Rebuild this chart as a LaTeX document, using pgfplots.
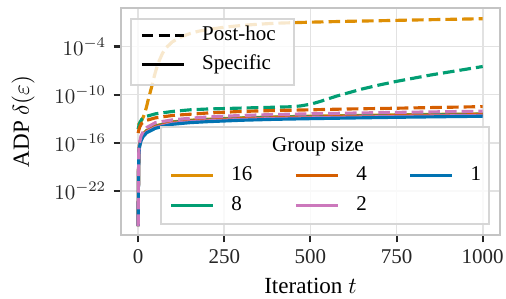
\documentclass[border=0pt]{standalone}
\usepackage{fontspec}
\setmainfont{Liberation Serif}
\usepackage{pgfplots}
\pgfplotsset{compat=1.18}
\definecolor{cA}{HTML}{DE8F05}
\definecolor{cB}{HTML}{029E73}
\definecolor{cC}{HTML}{D55E00}
\definecolor{cD}{HTML}{CC78BC}
\definecolor{cE}{HTML}{0173B2}
\definecolor{frame}{HTML}{C4C4C4}
\definecolor{gridc}{HTML}{E2E2E2}
\definecolor{legedge}{HTML}{D6D6D6}
\definecolor{tickc}{HTML}{262626}
\tikzset{
  dsh/.style={line width=1.5pt, dash pattern=on 5.55pt off 2.4pt},
  sld/.style={line width=1.5pt},
}
\pgfplotsset{
  common/.style={
    width=180.5pt, height=108.1pt, scale only axis,
    xmin=-50, xmax=1050, ymin=-27.5, ymax=0.8,
    legend image code/.code={\draw[##1] (0pt,0pt) -- (20pt,0pt);},
  },
}
\begin{document}
\begin{tikzpicture}
\useasboundingbox (-57.6pt,-30.5pt) rectangle (183.4pt,111.9pt);
\begin{axis}[common,
  axis line style={draw=frame, line width=1pt},
  tick style={draw=tickc, line width=1pt},
  major tick length=3.5pt, tick align=outside,
  xtick pos=bottom, ytick pos=left,
  grid=major, grid style={draw=gridc, line width=0.8pt},
  xtick={0,250,500,750,1000},
  xticklabels={0,250,500,750,1000},
  ytick={-22,-16,-10,-4},
  yticklabels={$10^{-22}$,$10^{-16}$,$10^{-10}$,$10^{-4}$},
  ticklabel style={font=\fontsize{10}{12}\selectfont, text=tickc},
  xlabel={Iteration $t$},
  ylabel={ADP $\delta(\varepsilon)$},
  label style={font=\fontsize{11}{13}\selectfont},
  xlabel style={at={([yshift=-27.8pt]axis description cs:0.5,0)}, anchor=base},
  ylabel style={at={([xshift=-43.8pt]axis description cs:0,0.5)}, anchor=base, rotate=0},
  legend style={draw=none, fill=none, at={(rel axis cs:0.0499,0.9232)}, anchor=north west,
    inner xsep=0pt, inner ysep=0pt, row sep=4.6pt,
    font=\fontsize{10}{12}\selectfont,
    nodes={inner sep=0pt, text height=7pt, text depth=2.2pt},
    /tikz/every odd column/.append style={column sep=8pt}},
  legend cell align=left,
]
% Specific (solid)
\addplot[cA, sld, forget plot] coordinates {(0,-26.4)(1,-19.7)(2,-17.2)(4,-16.2)(8,-15.5)(15,-14.9)(25,-14.45)(50,-13.9)(100,-13.4)(150,-13.2)(200,-13.08)(300,-12.9)(400,-12.78)(500,-12.7)(600,-12.63)(750,-12.53)(900,-12.45)(1000,-12.4)};
\addplot[cB, sld, forget plot] coordinates {(0,-26.4)(1,-19.75)(2,-17.25)(4,-16.25)(8,-15.55)(15,-14.95)(25,-14.5)(50,-13.95)(100,-13.45)(150,-13.25)(200,-13.13)(300,-12.95)(400,-12.83)(500,-12.75)(600,-12.68)(750,-12.58)(900,-12.5)(1000,-12.45)};
\addplot[cC, sld, forget plot] coordinates {(0,-26.4)(1,-19.8)(2,-17.3)(4,-16.3)(8,-15.6)(15,-15.0)(25,-14.55)(50,-14.0)(100,-13.5)(150,-13.3)(200,-13.18)(300,-13.0)(400,-12.88)(500,-12.8)(600,-12.73)(750,-12.63)(900,-12.55)(1000,-12.5)};
\addplot[cD, sld, forget plot] coordinates {(0,-26.4)(1,-19.9)(2,-17.4)(4,-16.4)(8,-15.7)(15,-15.1)(25,-14.65)(50,-14.1)(100,-13.6)(150,-13.4)(200,-13.28)(300,-13.1)(400,-12.98)(500,-12.9)(600,-12.83)(750,-12.73)(900,-12.65)(1000,-12.6)};
\addplot[cE, sld, forget plot] coordinates {(0,-26.4)(1,-20)(2,-17.5)(4,-16.5)(8,-15.8)(15,-15.2)(25,-14.75)(50,-14.2)(100,-13.7)(150,-13.5)(200,-13.38)(300,-13.2)(400,-13.08)(500,-13.0)(600,-12.93)(750,-12.83)(900,-12.75)(1000,-12.7)};
% Post-hoc (dashed)
\addplot[cA, dsh, forget plot] coordinates {(0,-13.8)(5,-13.5)(10,-13.2)(15,-12.8)(20,-12.2)(25,-11.4)(30,-10.5)(35,-9.7)(40,-8.9)(45,-8.0)(50,-7.2)(55,-6.5)(60,-5.9)(70,-4.9)(80,-4.2)(90,-3.8)(100,-3.4)(125,-2.8)(150,-2.4)(175,-2.1)(200,-1.9)(250,-1.6)(300,-1.38)(350,-1.22)(400,-1.1)(500,-0.97)(600,-0.87)(700,-0.79)(800,-0.7)(900,-0.62)(1000,-0.54)};
\addplot[cB, dsh, forget plot] coordinates {(0,-14.3)(2,-13.9)(5,-13.5)(10,-13.1)(25,-12.7)(50,-12.4)(100,-12.1)(150,-11.9)(200,-11.8)(300,-11.68)(400,-11.57)(440,-11.52)(470,-11.42)(500,-11.2)(525,-10.9)(550,-10.55)(575,-10.2)(600,-9.9)(650,-9.3)(700,-8.8)(750,-8.35)(800,-7.95)(850,-7.55)(900,-7.2)(950,-6.85)(1000,-6.5)};
\addplot[cC, dsh, forget plot] coordinates {(0,-14.8)(2,-14.4)(5,-14.0)(10,-13.6)(25,-13.2)(50,-12.9)(100,-12.6)(150,-12.45)(200,-12.3)(300,-12.1)(400,-11.98)(500,-11.9)(600,-11.8)(750,-11.7)(900,-11.58)(1000,-11.5)};
\addplot[cD, dsh, forget plot] coordinates {(0,-26.4)(1,-19.5)(2,-17)(4,-16)(8,-15.2)(15,-14.6)(25,-14.1)(50,-13.5)(100,-13.15)(150,-12.95)(200,-12.8)(300,-12.6)(400,-12.48)(500,-12.4)(600,-12.32)(750,-12.22)(900,-12.13)(1000,-12.07)};
% legend 1 frame
\draw[draw=legedge, line width=1pt, fill=white, fill opacity=0.8]
  (rel axis cs:0.0266,0.6605) rectangle (rel axis cs:0.4565,0.9519);
\addlegendimage{black, dsh}
\addlegendentry{Post-hoc}
\addlegendimage{black, sld}
\addlegendentry{Specific}
\end{axis}
\begin{axis}[common, hide axis, clip=false,
  legend columns=3,
  legend style={draw=none, fill=none, at={(rel axis cs:0.1269,0.3071)}, anchor=north west,
    inner xsep=0pt, inner ysep=0pt, row sep=5.1pt,
    font=\fontsize{10}{12}\selectfont,
    nodes={inner sep=0pt, text height=7pt, text depth=2.2pt},
    /tikz/every odd column/.append style={column sep=8pt},
    /tikz/every even column/.append style={column sep=20pt}},
  legend cell align=left,
]
\draw[draw=legedge, line width=1pt, fill=white, fill opacity=0.8]
  (rel axis cs:0.1053,0.0481) rectangle (rel axis cs:0.9706,0.4755);
\node[anchor=base, font=\fontsize{10}{12}\selectfont] at (rel axis cs:0.5197,0.3673) {Group size};
\addlegendimage{cA, sld}\addlegendentry{16}
\addlegendimage{cC, sld}\addlegendentry{4}
\addlegendimage{cE, sld}\addlegendentry{1}
\addlegendimage{cB, sld}\addlegendentry{8}
\addlegendimage{cD, sld}\addlegendentry{2}
\end{axis}
\end{tikzpicture}
\end{document}
